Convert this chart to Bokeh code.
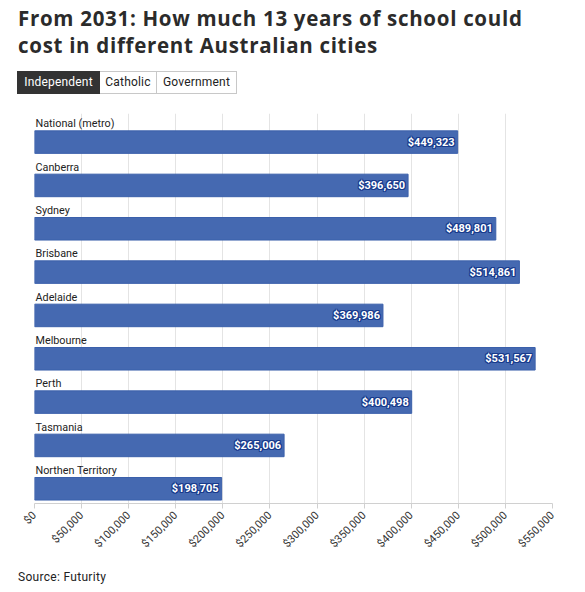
from bokeh.plotting import figure
from bokeh.layouts import column
from bokeh.models import (Div, Range1d, FixedTicker, NumeralTickFormatter,
                          ColumnDataSource)
from bokeh.core.properties import value
from bokeh.embed import file_html
from bokeh.resources import INLINE

# Projected cost of 13 years of independent schooling, from 2031
cities = ["National (metro)", "Canberra", "Sydney", "Brisbane", "Adelaide",
          "Melbourne", "Perth", "Tasmania", "Northen Territory"]
costs = [449323, 396650, 489801, 514861, 369986, 531567, 400498, 265006, 198705]
tick_values = list(range(0, 550001, 50000))
tabs = ["Independent", "Catholic", "Government"]

FONT = "Roboto"
BAR = "#4569b1"

rows = list(range(len(cities)))
src = ColumnDataSource(dict(
    city=cities,
    cost=costs,
    row=rows,
    bar_y=[r + 0.66 for r in rows],
    name_y=[r + 0.24 for r in rows],
    label=["${:,}".format(c) for c in costs],
))

title = Div(
    text=("<div style=\"font-family:'Open Sans';font-weight:700;font-size:20.5px;"
          "letter-spacing:0.7px;line-height:27px;color:#2b2b2b;padding:5px 0 0 18px;"
          "white-space:nowrap;\">"
          "From 2031: How much 13 years of school could<br>"
          "cost in different Australian cities</div>"),
    width=585, height=64, margin=(0, 0, 0, 0))

widths = [83, 57, 80]
btn_html = []
for i, (t, w) in enumerate(zip(tabs, widths)):
    active = i == 0
    btn_html.append(
        "<span style=\"display:inline-block;box-sizing:border-box;width:%dpx;height:23px;"
        "line-height:21px;text-align:center;font-family:'Roboto';font-size:12px;"
        "letter-spacing:0.2px;border:1px solid %s;%s background:%s;color:%s;\">%s</span>"
        % (w, "#333333" if active else "#c8c8c8",
           "" if i == 0 else "border-left:none;",
           "#333333" if active else "#ffffff",
           "#ffffff" if active else "#222222", t))
buttons = Div(
    text=("<div style=\"padding:7px 0 0 17px;white-space:nowrap;font-size:0;\">"
          + "".join(btn_html) + "</div>"),
    width=585, height=36, margin=(0, 0, 0, 0))

p = figure(width=585, height=460, output_backend="svg", toolbar_location=None,
           x_range=Range1d(0, 550000), y_range=Range1d(len(cities), 0),
           min_border_left=34, min_border_right=33, min_border_top=13,
           min_border_bottom=57, margin=(0, 0, 0, 0))
p.outline_line_color = None
p.yaxis.visible = False
p.ygrid.visible = False
p.xgrid.grid_line_color = "#e4e4e4"
p.xaxis.ticker = FixedTicker(ticks=tick_values)
p.xaxis.formatter = NumeralTickFormatter(format="$0,0")
p.xaxis.major_label_orientation = 0.785398
p.xaxis.major_label_text_font = FONT
p.xaxis.major_label_text_font_size = "11px"
p.xaxis.major_label_text_color = "#333333"
p.xaxis.axis_line_color = "#d0d0d0"
p.xaxis.major_tick_line_color = "#d0d0d0"
p.xaxis.major_tick_out = 5
p.xaxis.major_tick_in = 0
p.xaxis.minor_tick_line_color = None

p.hbar(y="bar_y", left=0, right="cost", height=0.52, source=src,
       fill_color=BAR, line_color="#3b60ab", line_width=1)

p.text(x=0, y="name_y", text="city", source=src, x_offset=1,
       text_font=value(FONT), text_font_size="10.8px", text_color="#222222",
       text_baseline="middle", text_align="left")

# value labels: dark halo underneath, white text on top
for dx, dy in [(-1, -1), (0, -1), (1, -1), (-1, 0), (1, 0), (-1, 1), (0, 1), (1, 1)]:
    p.text(x="cost", y="bar_y", text="label", source=src,
           x_offset=-3 + dx, y_offset=dy,
           text_font=value(FONT), text_font_size="11px", text_font_style="bold",
           text_color="#173a8c", text_baseline="middle", text_align="right")
p.text(x="cost", y="bar_y", text="label", source=src, x_offset=-3,
       text_font=value(FONT), text_font_size="11px", text_font_style="bold",
       text_color="#ffffff", text_baseline="middle", text_align="right")

source = Div(
    text=("<div style=\"font-family:'Roboto';font-size:12px;letter-spacing:0.3px;"
          "color:#222222;padding:9px 0 0 18px;\">Source: Futurity</div>"),
    width=585, height=32, margin=(0, 0, 0, 0))

layout = column(title, buttons, p, source, spacing=0, margin=(0, 0, 0, 0))
open("out.html", "w").write(file_html(layout, INLINE))
